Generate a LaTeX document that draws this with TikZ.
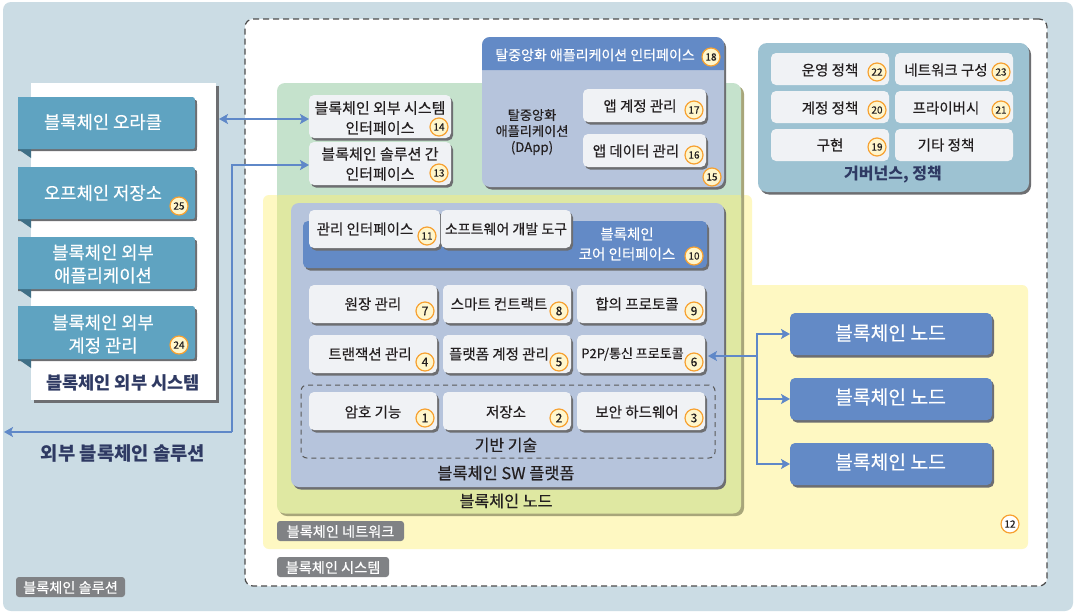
\documentclass[tikz,border=0pt]{standalone}
\usepackage{fontspec}
\setmainfont{Noto Sans CJK KR}[UprightFeatures={FakeBold=0.35}]
\usetikzlibrary{arrows.meta,shadows}
\definecolor{bgc}{HTML}{CBDCE4}
\definecolor{grn}{HTML}{C5E2CC}
\definecolor{yel}{HTML}{FEF8C2}
\definecolor{ovl}{HTML}{DFE8A2}
\definecolor{slate}{HTML}{B6C4DC}
\definecolor{blu}{HTML}{638AC6}
\definecolor{teal1}{HTML}{5FA3C1}
\definecolor{fold}{HTML}{3F6F86}
\definecolor{gov}{HTML}{9DC2D2}
\definecolor{card}{HTML}{F0F2F5}
\definecolor{shd}{HTML}{6D6E71}
\definecolor{navy}{HTML}{2F3A63}
\definecolor{ink}{HTML}{231F20}
\definecolor{tagc}{HTML}{808285}
\definecolor{orng}{HTML}{F7A131}
\definecolor{badge}{HTML}{FFF6CC}
\definecolor{arr}{HTML}{5F88C8}
\definecolor{tan}{HTML}{A8A67A}
\tikzset{
  x=1pt,y=-1pt,
  base/.style={inner sep=0pt,outer sep=0pt,rounded corners=5pt},
  sh/.style={general shadow={fill=shd,shadow xshift=2pt,shadow yshift=-2.5pt}},
  cardbox/.style={base,fill=card,sh},
  bluebox/.style={base,fill=blu,sh},
  slatebox/.style={base,fill=slate,sh,rounded corners=8pt},
  govbox/.style={base,fill=gov,sh,rounded corners=9pt},
  flat/.style={base,fill=card},
  lbl/.style={inner sep=0pt,outer sep=0pt,yshift=-1pt,align=center,text=ink,font=\fontsize{14.5}{20}\selectfont},
  lblw/.style={lbl,text=white,font=\fontsize{17.7}{23}\selectfont},
  lblb/.style={lbl,text=navy,font=\fontsize{17.6}{23}\selectfont\bfseries},
  tagl/.style={lbl,text=white,font=\fontsize{14.2}{16}\selectfont},
  tag/.style={base,fill=tagc,rounded corners=3pt},
  bdg/.style={circle,draw=orng,line width=1.2pt,fill=badge,minimum size=18pt,inner sep=0pt,text=ink},
  link/.style={draw=arr,line width=1.5pt},
  tipb/.style={-{Stealth[length=9pt,width=10pt,inset=2pt]}},
  tipbb/.style={{Stealth[length=9pt,width=10pt,inset=2pt]}-{Stealth[length=9pt,width=10pt,inset=2pt]}},
}
% \bx[style]{name}{x1}{y1}{x2}{y2}
\newcommand{\bx}[6][]{\node[#1,minimum width={(#5-#3)*1pt},minimum height={(#6-#4)*1pt}] (#2) at ({(#3+#5)/2},{(#4+#6)/2}) {};}
\newcommand{\bdtxt}[1]{\ifnum#1<10 \fontsize{12}{12}\selectfont #1\else\fontsize{10}{10}\selectfont #1\fi}
\newcommand{\bd}[3]{\node[bdg] (b#1) at (#2,#3) {\bdtxt{#1}};}
\newcommand{\tealbox}[5]{%
  \fill[shd] (18,#2+3) -- (193,#2+3) .. controls (197,#2+3) and (197,#2+3) .. (197,#2+7) -- (197,#3-2) .. controls (197,#3+2) and (197,#3+2) .. (193,#3+2) -- (18,#3+2) -- cycle;
  \fill[fold] (18,#3) -- (31,#3) -- (31,#3+9) -- cycle;
  \fill[teal1] (18,#2) -- (189,#2) .. controls (195,#2) and (195,#2) .. (195,#2+6) -- (195,#3-5) .. controls (195,#3) and (195,#3) .. (190,#3) -- (18,#3) -- cycle;
  \node[lblw] (#1) at (103,#4) {#5};}
\begin{document}
\begin{tikzpicture}
\useasboundingbox (0,0) rectangle (1075,613);
% backgrounds
\fill[white] (0,0) rectangle (1075,613);
\fill[bgc,rounded corners=8pt] (3,2) rectangle (1073,611);
\node[base,fill=white,draw=black!70,line width=1.2pt,dash pattern=on 6pt off 4pt,rounded corners=8pt,minimum width=802pt,minimum height=567pt] (sys) at (646,302.5) {};
% yellow network
\fill[yel,rounded corners=6pt] (263,195) -- (752,195) [sharp corners] -- (752,285) [rounded corners=6pt] -- (1028,285) -- (1028,549) -- (263,549) -- cycle;
% green node
\fill[tan,rounded corners=8pt] (279,86) rectangle (744,516);
\fill[grn,rounded corners=8pt] (277,83) rectangle (741,300);
\fill[ovl,rounded corners=8pt] (277,190) rectangle (741,513.5);
\fill[grn] (277,100) rectangle (741,195);
% left external panel
\fill[shd] (34,86) rectangle (219,403);
\node[base,rounded corners=0pt,fill=white,minimum width=185pt,minimum height=317pt] (ext) at (123.5,241.5) {};
\tealbox{oracle}{97}{149}{121}{블록체인 오라클}
\tealbox{offch}{167}{219}{192}{오프체인 저장소}
\tealbox{extapp}{237}{289}{263}{블록체인 외부\\애플리케이션}
\tealbox{extacc}{306}{359}{333}{블록체인 외부\\계정 관리}
\node[lblb] (extl) at (123,382) {블록체인 외부 시스템};
\node[lblb,font=\fontsize{18.8}{23}\selectfont\bfseries] (extsol) at (123,452) {외부 블록체인 솔루션};
% DApp
\bx[slatebox]{dapp}{482}{37}{724}{187}
\fill[blu] (482,70) [rounded corners=8pt] -- (482,37) -- (724,37) [sharp corners] -- (724,70) -- cycle;
\node[lbl,text=white,font=\fontsize{14}{20}\selectfont] (dappt) at (595,54) {탈중앙화 애플리케이션 인터페이스};
\node[lbl,font=\fontsize{13.2}{16}\selectfont] (dappl) at (532,131) {탈중앙화\\애플리케이션\\(DApp)};
\bx[cardbox]{c17}{583}{89}{706}{122}
\node[lbl] at (640,105) {앱 계정 관리};
\bx[cardbox]{c16}{583}{134}{706}{167}
\node[lbl] at (636,150) {앱 데이터 관리};
% interfaces
\bx[cardbox]{c14}{309}{95}{451}{138}
\node[lbl,font=\fontsize{15}{20}\selectfont] at (380,117) {블록체인 외부 시스템\\인터페이스};
\bx[cardbox]{c13}{309}{142}{451}{185}
\node[lbl,font=\fontsize{15}{20}\selectfont] at (380,163) {블록체인 솔루션 간\\인터페이스};
% SW platform
\bx[slatebox]{sw}{291}{203}{724}{487}
\bx[bluebox]{core}{303}{221}{707}{268}
\node[lbl,text=white] at (627,243) {블록체인\\코어 인터페이스};
\bx[cardbox]{c11}{309}{210}{440}{248}
\node[lbl] at (365,228) {관리 인터페이스};
\bx[cardbox]{csd}{441}{210}{571}{248}
\node[lbl,font=\fontsize{14}{20}\selectfont] at (506,228) {소프트웨어 개발 도구};
\bx[cardbox]{c7}{309}{285}{437}{323}
\node[lbl] at (373,303) {원장 관리};
\bx[cardbox]{c8}{443}{285}{571}{323}
\node[lbl] at (499,303) {스마트 컨트랙트};
\bx[cardbox]{c9}{577}{285}{705}{323}
\node[lbl] at (637,303) {합의 프로토콜};
\bx[cardbox]{c4}{309}{335}{437}{373}
\node[lbl] at (370,353) {트랜잭션 관리};
\bx[cardbox]{c5}{443}{335}{571}{373}
\node[lbl] at (499,353) {플랫폼 계정 관리};
\bx[cardbox]{c6}{577}{335}{705}{373}
\node[lbl,font=\fontsize{13}{20}\selectfont] at (632.5,353) {P2P/통신 프로토콜};
\node[base,draw=black!65,line width=1pt,dash pattern=on 5pt off 4pt,minimum width=414pt,minimum height=73pt,rounded corners=6pt] (found) at (508,421.5) {};
\bx[cardbox]{c1}{309}{392}{437}{430}
\node[lbl] at (373,411) {암호 기능};
\bx[cardbox]{c2}{443}{392}{571}{430}
\node[lbl] at (506,411) {저장소};
\bx[cardbox]{c3}{577}{392}{705}{430}
\node[lbl] at (637,411) {보안 하드웨어};
\node[lbl,font=\fontsize{16}{20}\selectfont] at (506,444) {기반 기술};
\node[lbl,font=\fontsize{16.4}{20}\selectfont] at (506,472) {블록체인 SW 플랫폼};
\node[lbl,font=\fontsize{16.2}{20}\selectfont] at (506,500) {블록체인 노드};
% governance
\bx[govbox]{govb}{758}{43}{1029}{192}
\bx[flat]{g22}{771}{53}{889}{85}
\node[lbl] at (830,69) {운영 정책};
\bx[flat]{g23}{895}{53}{1013}{85}
\node[lbl] at (946,69) {네트워크 구성};
\bx[flat]{g20}{771}{91}{889}{123}
\node[lbl] at (830,107) {계정 정책};
\bx[flat]{g21}{895}{91}{1013}{123}
\node[lbl] at (946,107) {프라이버시};
\bx[flat]{g19}{771}{129}{889}{161}
\node[lbl] at (830,144) {구현};
\bx[flat]{gx}{895}{129}{1013}{161}
\node[lbl] at (946,144) {기타 정책};
\node[lbl,text=navy,font=\fontsize{16}{20}\selectfont\bfseries] at (893,174) {거버넌스, 정책};
% blockchain nodes
\bx[bluebox]{n1}{790}{313}{992}{355}
\node[lblw,font=\fontsize{19.3}{23}\selectfont] at (890.5,332) {블록체인 노드};
\bx[bluebox]{n2}{790}{378}{992}{420}
\node[lblw,font=\fontsize{19.3}{23}\selectfont] at (890.5,396) {블록체인 노드};
\bx[bluebox]{n3}{790}{443}{992}{485}
\node[lblw,font=\fontsize{19.3}{23}\selectfont] at (890.5,461) {블록체인 노드};
% tags
\bx[tag]{tnet}{277}{521}{404}{541}
\node[tagl] at (340.5,530.5) {블록체인 네트워크};
\bx[tag]{tsys}{277}{557}{389}{577}
\node[tagl] at (333,566.5) {블록체인 시스템};
\bx[tag]{tsol}{16}{577}{125}{597}
\node[tagl] at (70.5,586.5) {블록체인 솔루션};
% badges
\bd{25}{179}{206}\bd{24}{179}{345}\bd{18}{711}{57}\bd{17}{694}{110}\bd{16}{694}{155}\bd{15}{712}{177}
\bd{14}{439}{127}\bd{13}{439}{173}\bd{11}{427}{236}\bd{10}{694}{256}
\bd{7}{425}{311}\bd{8}{559}{311}\bd{9}{694}{311}\bd{4}{425}{362}\bd{5}{559}{362}\bd{6}{694}{362}
\bd{1}{425}{418}\bd{2}{559}{418}\bd{3}{694}{418}
\bd{22}{877}{72}\bd{23}{1001}{72}\bd{20}{877}{110}\bd{21}{1001}{110}\bd{19}{877}{147}
\node[bdg,fill=white] (b12) at (1010,524) {\bdtxt{12}};
% connectors
\coordinate (busM) at (757,356);
\coordinate (solEnd) at (4,432);
\coordinate (solCorner) at (232,432);
\coordinate (c14w) at (309,119);
\coordinate (c13w) at (309,165);
\coordinate (extE) at (219,119);
\draw[link,tipbb] (extE) -- (c14w);
\draw[link,tipb] (solCorner) -- (solEnd);
\draw[link,tipb] (solCorner) |- (c13w);
\draw[link,tipb] (busM) -- (708,356);
\draw[link,tipb] (busM) |- (n1.west);
\draw[link,tipb] (busM) |- (n2.west);
\draw[link,tipb] (busM) |- (n3.west);
\end{tikzpicture}
\end{document}
